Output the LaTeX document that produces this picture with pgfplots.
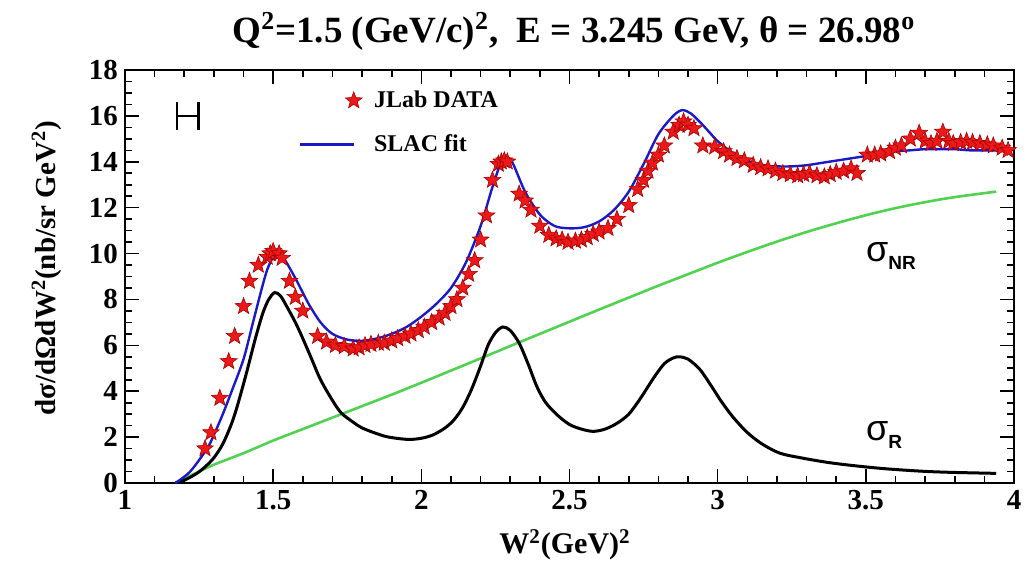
\documentclass[border=0pt]{standalone}
\usepackage{fontspec}
\setmainfont{Liberation Serif}
\newfontfamily\arialf{Liberation Sans}
\usepackage{pgfplots}
\pgfplotsset{compat=1.18}
\definecolor{starred}{RGB}{235,25,25}
\definecolor{stardark}{RGB}{170,0,0}
\definecolor{fitblue}{RGB}{25,25,200}
\definecolor{nrgreen}{RGB}{80,210,80}
\pgfdeclareplotmark{fstar}{%
  \pgfpathmoveto{\pgfpointpolar{90}{\pgfplotmarksize}}%
  \pgfpathlineto{\pgfpointpolar{126}{0.42\pgfplotmarksize}}%
  \pgfpathlineto{\pgfpointpolar{162}{\pgfplotmarksize}}%
  \pgfpathlineto{\pgfpointpolar{198}{0.42\pgfplotmarksize}}%
  \pgfpathlineto{\pgfpointpolar{234}{\pgfplotmarksize}}%
  \pgfpathlineto{\pgfpointpolar{270}{0.42\pgfplotmarksize}}%
  \pgfpathlineto{\pgfpointpolar{306}{\pgfplotmarksize}}%
  \pgfpathlineto{\pgfpointpolar{342}{0.42\pgfplotmarksize}}%
  \pgfpathlineto{\pgfpointpolar{18}{\pgfplotmarksize}}%
  \pgfpathlineto{\pgfpointpolar{54}{0.42\pgfplotmarksize}}%
  \pgfpathclose
  \pgfusepathqfillstroke
}
\pgfplotsset{
  starlegend/.style={legend image code/.code={\path (0pt,0pt) (27pt,0pt); \draw[##1] plot coordinates {(27pt,0pt)};}},
  linelegend/.style={legend image code/.code={\draw[##1] (0pt,0pt) -- (27pt,0pt);}},
}
\begin{document}
\begin{tikzpicture}
\begin{axis}[name=ax,
  width=444.5pt, height=206.5pt, scale only axis,
  xmin=1, xmax=4, ymin=0, ymax=18,
  xtick={1,1.5,2,2.5,3,3.5,4}, ytick={0,2,4,6,8,10,12,14,16,18},
  minor x tick num=4, minor y tick num=3,
  tick align=inside, major tick length=7pt, minor tick length=3.5pt,
  axis line style={line width=1pt},
  every tick/.style={black, line width=0.8pt},
  /pgf/number format/assume math mode=true,
  tick label style={font=\fontsize{14.5}{14.5}\selectfont\bfseries},
  title={Q\textsuperscript{2}=1.5 (GeV/c)\textsuperscript{2},\ \ E = 3.245 GeV, θ = 26.98\textsuperscript{o}},
  title style={at={(0.505,1.065)}, anchor=center, font=\fontsize{18.5}{18.5}\selectfont\bfseries},
  xlabel={W\textsuperscript{2}(GeV)\textsuperscript{2}},
  xlabel style={at={(0.495,-0.15)}, anchor=center, font=\fontsize{15}{15}\selectfont\bfseries},
  ylabel={dσ/dΩdW\textsuperscript{2}(nb/sr GeV\textsuperscript{2})},
  ylabel style={at={(-0.088,0.52)}, anchor=center, font=\fontsize{14.5}{14.5}\selectfont\bfseries},
  legend style={at={(0.188,0.97)}, anchor=north west, draw=none, fill=none,
    font=\fontsize{12}{12}\selectfont\bfseries, row sep=8pt,
    nodes={inner xsep=6pt}},
  legend cell align=left,
]
% non-resonant
\addplot[nrgreen, line width=1.3pt, smooth, forget plot] coordinates {
(1.17,0) (1.20,0.2) (1.25,0.5) (1.30,0.8) (1.40,1.3) (1.50,1.85) (1.60,2.35)
(1.70,2.85) (1.80,3.35) (1.90,3.85) (2.00,4.37) (2.10,4.9) (2.20,5.43) (2.30,5.97)
(2.40,6.5) (2.50,7.03) (2.60,7.56) (2.70,8.08) (2.80,8.6) (2.90,9.1) (3.00,9.6)
(3.10,10.07) (3.20,10.52) (3.30,10.94) (3.40,11.32) (3.50,11.67) (3.60,11.98)
(3.70,12.24) (3.80,12.46) (3.94,12.7)};
% resonant
\addplot[black, line width=1.5pt, smooth, forget plot] coordinates {
(1.17,0) (1.20,0.12) (1.24,0.4) (1.27,0.7) (1.30,1.1) (1.33,1.7) (1.36,2.6)
(1.38,3.4) (1.41,4.8) (1.44,6.3) (1.465,7.4) (1.485,8.0) (1.505,8.3) (1.525,8.15)
(1.55,7.6) (1.575,7.0) (1.60,6.3) (1.63,5.4) (1.66,4.5) (1.70,3.6) (1.73,3.05)
(1.77,2.65) (1.80,2.4) (1.85,2.15) (1.89,2.0) (1.955,1.9) (2.00,1.95) (2.04,2.1)
(2.08,2.4) (2.11,2.75) (2.14,3.3) (2.17,4.1) (2.20,5.1) (2.225,6.0) (2.25,6.55)
(2.275,6.8) (2.30,6.65) (2.33,6.1) (2.36,5.2) (2.39,4.2) (2.42,3.5) (2.46,2.95)
(2.50,2.55) (2.54,2.35) (2.58,2.25) (2.62,2.35) (2.66,2.6) (2.70,3.0) (2.74,3.7)
(2.785,4.6) (2.82,5.2) (2.85,5.45) (2.87,5.5) (2.90,5.4) (2.94,4.95) (2.98,4.2)
(3.01,3.6) (3.05,2.9) (3.10,2.2) (3.15,1.7) (3.21,1.3) (3.28,1.1) (3.37,0.9)
(3.45,0.77) (3.54,0.65) (3.62,0.57) (3.71,0.5) (3.80,0.46) (3.94,0.42)};
% JLab data
\addplot[only marks, mark=fstar, mark size=4.4pt,
  mark options={fill=starred, draw=stardark, line width=0.3pt}, starlegend]
coordinates {
(1.27,1.5) (1.29,2.2) (1.32,3.7) (1.35,5.3) (1.37,6.4) (1.40,7.7) (1.42,8.8)
(1.45,9.5) (1.48,9.85) (1.49,10.0) (1.50,10.1) (1.52,10.0) (1.53,9.8) (1.555,8.8)
(1.575,8.1) (1.60,7.5) (1.65,6.4) (1.68,6.15) (1.71,6.0) (1.74,5.95) (1.77,5.85)
(1.79,5.9) (1.81,6.0) (1.83,6.05) (1.855,6.1) (1.875,6.1) (1.90,6.2) (1.92,6.3)
(1.945,6.4) (1.965,6.5) (1.99,6.65) (2.01,6.8) (2.035,7.0) (2.06,7.2) (2.08,7.4)
(2.10,7.7) (2.12,8.0) (2.14,8.5) (2.16,9.1) (2.18,9.7) (2.20,10.6) (2.22,11.65)
(2.24,13.2) (2.26,13.9) (2.27,14.0) (2.28,14.05) (2.29,14.0) (2.33,12.6)
(2.35,12.3) (2.37,11.9) (2.40,11.2) (2.43,10.8) (2.455,10.65) (2.475,10.6)
(2.495,10.5) (2.52,10.55) (2.54,10.6) (2.56,10.7) (2.58,10.85) (2.60,10.95)
(2.63,11.1) (2.66,11.5) (2.70,12.1) (2.73,12.8) (2.75,13.2) (2.765,13.6)
(2.78,13.95) (2.80,14.3) (2.82,14.7) (2.85,15.3) (2.87,15.6) (2.885,15.75)
(2.90,15.6) (2.92,15.45) (2.95,14.7) (2.99,14.65) (3.02,14.45) (3.04,14.3)
(3.065,14.15) (3.09,14.05) (3.12,13.85) (3.145,13.75) (3.17,13.7) (3.195,13.6)
(3.22,13.5) (3.245,13.45) (3.27,13.4) (3.29,13.45) (3.31,13.5) (3.335,13.4)
(3.36,13.35) (3.38,13.45) (3.40,13.55) (3.425,13.6) (3.45,13.7) (3.47,13.5)
(3.505,14.3) (3.53,14.3) (3.55,14.35) (3.58,14.45) (3.60,14.6) (3.62,14.7)
(3.65,15.0) (3.68,15.25) (3.70,14.9) (3.72,14.8) (3.74,14.9) (3.76,15.3)
(3.78,14.9) (3.795,14.8) (3.82,14.85) (3.84,14.9) (3.86,14.85) (3.885,14.8)
(3.91,14.75) (3.93,14.7) (3.96,14.6) (3.98,14.5)};
\addlegendentry{JLab DATA}
% SLAC fit
\addplot[fitblue, line width=1.2pt, smooth, linelegend]
coordinates {
(1.17,0) (1.22,0.5) (1.277,1.5) (1.30,2.1) (1.33,3.0) (1.36,4.0) (1.40,5.4)
(1.43,6.9) (1.46,8.4) (1.48,9.3) (1.50,9.85) (1.515,10.0) (1.53,9.9) (1.55,9.5)
(1.58,8.8) (1.62,7.8) (1.66,7.0) (1.70,6.5) (1.75,6.25) (1.80,6.2) (1.85,6.3)
(1.90,6.5) (1.95,6.8) (2.00,7.25) (2.05,7.8) (2.10,8.5) (2.15,9.6) (2.20,11.2)
(2.24,12.9) (2.27,14.0) (2.29,14.2) (2.31,13.9) (2.35,12.7) (2.40,11.7)
(2.45,11.2) (2.50,11.1) (2.55,11.15) (2.60,11.4) (2.65,11.9) (2.70,12.7)
(2.75,13.9) (2.80,15.2) (2.85,16.0) (2.88,16.25) (2.91,16.1) (2.95,15.6)
(3.00,14.9) (3.05,14.4) (3.10,14.05) (3.15,13.85) (3.20,13.8) (3.25,13.8)
(3.30,13.85) (3.35,13.95) (3.40,14.05) (3.45,14.15) (3.50,14.25) (3.55,14.35)
(3.60,14.45) (3.65,14.5) (3.70,14.55) (3.75,14.55) (3.80,14.55) (3.85,14.5)
(3.90,14.5) (3.96,14.5)};
\addlegendentry{SLAC fit}
% error bar symbol
\addplot[black, line width=1.2pt, mark=none, forget plot,
  error bars/.cd, x dir=both, x explicit, error mark=|,
  error bar style={line width=1.2pt},
  error mark options={black, line width=1.2pt, mark size=7pt}]
coordinates {(1.212,16.0) +- (0.036,0)};
\node[anchor=west, inner sep=0pt] at (axis cs:3.50,9.9)
  {\arialf\fontsize{18}{18}\selectfont σ\raisebox{-0.4ex}{\fontsize{9.5}{9.5}\selectfont\bfseries NR}};
\node[anchor=west, inner sep=0pt] at (axis cs:3.50,2.1)
  {\arialf\fontsize{18}{18}\selectfont σ\raisebox{-0.4ex}{\fontsize{9.5}{9.5}\selectfont\bfseries R}};
\end{axis}
\pgfresetboundingbox
\path ([shift={(-62.5pt,-40pt)}]ax.south west) rectangle ([shift={(7pt,35pt)}]ax.north east);
\end{tikzpicture}
\end{document}
